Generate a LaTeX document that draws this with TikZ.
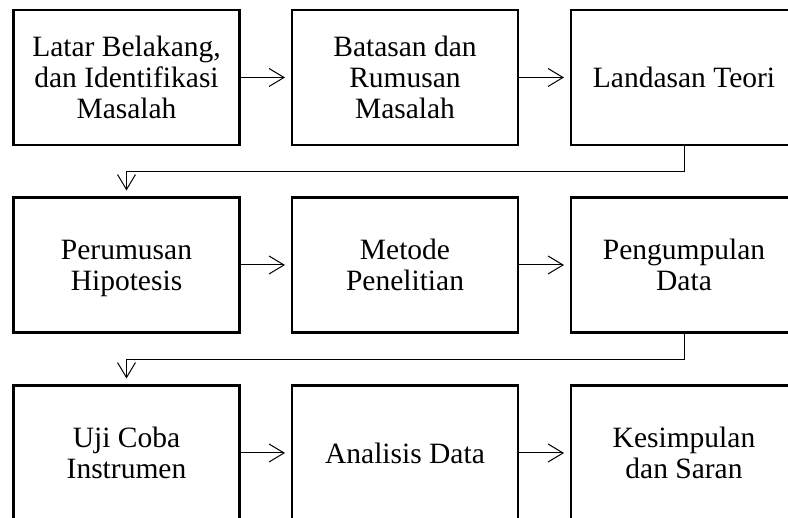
\documentclass[tikz,border=0pt]{standalone}
\usepackage{fontspec}
\setmainfont{Liberation Serif}
\usetikzlibrary{arrows.meta}
\begin{document}
\begin{tikzpicture}[x=1pt,y=1pt,
 box/.style={draw, line width=2.2pt, minimum width=226pt, minimum height=135pt, inner sep=0pt, outer sep=0pt, align=center, text depth=0pt, font=\fontsize{29.5}{31}\selectfont},
 conn/.style={line width=1pt, shorten >=7pt, -{Straight Barb[length=15pt,width=18pt,line width=1pt]}}
]
\useasboundingbox (0,0) rectangle (788,-518);
\node[box] (a) at (126.5,-77.5) {Latar Belakang,\\dan Identifikasi\\Masalah};
\node[box] (b) at (405,-77.5) {Batasan dan\\Rumusan\\Masalah};
\node[box] (c) at (684,-77.5) {Landasan Teori};
\node[box] (d) at (126.5,-265) {Perumusan\\Hipotesis};
\node[box] (e) at (405,-265) {Metode\\Penelitian};
\node[box] (f) at (684,-265) {Pengumpulan\\Data};
\node[box] (g) at (126.5,-453) {Uji Coba\\Instrumen};
\node[box] (h) at (405,-453) {Analisis Data};
\node[box] (i) at (684,-453) {Kesimpulan\\dan Saran};
\draw[conn] (a.east) -- (b.west);
\draw[conn] (b.east) -- (c.west);
\draw[conn] (d.east) -- (e.west);
\draw[conn] (e.east) -- (f.west);
\draw[conn] (g.east) -- (h.west);
\draw[conn] (h.east) -- (i.west);
\draw[conn] (c.south) -- ++(0,-27) -| (d.north);
\draw[conn] (f.south) -- ++(0,-27) -| (g.north);
\end{tikzpicture}
\end{document}
